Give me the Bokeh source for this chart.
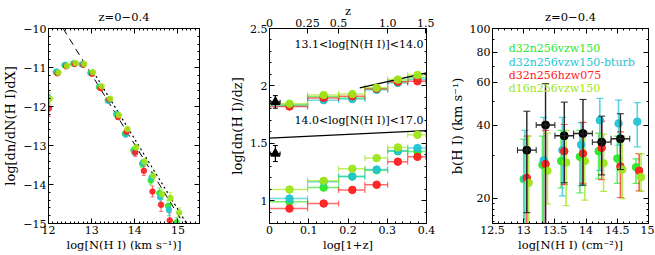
import math
from bokeh.plotting import figure
from bokeh.layouts import row
from bokeh.models import (ColumnDataSource, Whisker, TeeHead, FixedTicker, SingleIntervalTicker,
                          LinearAxis, LogAxis, Range1d, Label, CustomJSTickFormatter,
                          CustomLabelingPolicy)
from bokeh.transform import dodge
from bokeh.embed import file_html
from bokeh.resources import INLINE

NaN = float("nan")
FONT = "DejaVu Serif"

# ---------------- data ----------------
series_names = ["d32n256vzw150", "d32n256vzw150-bturb", "d32n256hzw075", "d16n256vzw150"]
series_colors = ["#2ee62e", "#22c5d5", "#ff2020", "#9ee61a"]

# Panel 1: column density distribution, z = 0-0.4
cddf_logN = [12.0, 12.2, 12.4, 12.6, 12.8, 13.0, 13.2, 13.4, 13.6, 13.8, 14.0, 14.2, 14.4, 14.6, 14.8, 15.0]
cddf_green = [-11.85, -11.12, -10.94, -10.90, -10.92, -11.14, -11.50, -11.84, -12.20, -12.70, -13.12, -13.47, -13.90, -14.22, -14.55, -14.97]
cddf_cyan = [-11.75, -11.10, -10.93, -10.90, -10.92, -11.15, -11.50, -11.86, -12.20, -12.72, -13.17, -13.45, -13.82, -14.33, -14.65, NaN]
cddf_red = [-12.05, -11.15, -10.97, -10.91, -10.93, -11.16, -11.53, -11.82, -12.27, -12.65, -13.18, -13.65, -14.18, -14.52, -14.92, NaN]
cddf_yg = [-11.80, -11.13, -10.96, -10.89, -10.91, -11.12, -11.48, -11.80, -12.22, -12.58, -13.05, -13.42, -13.78, -14.25, -14.35, -14.72]
cddf_err = [0.15, 0.03, 0.02, 0.02, 0.02, 0.03, 0.03, 0.04, 0.05, 0.06, 0.08, 0.09, 0.11, 0.13, 0.15, 0.12]
cddf_err_red = [0.20, 0.04, 0.03, 0.03, 0.03, 0.03, 0.04, 0.05, 0.06, 0.08, 0.10, 0.12, 0.14, 0.17, 0.20, 0.20]
fit_dashed_logN = [12.34, 15.10]
fit_dashed_f = [-10.00, -14.95]
fit_dotted_logN = [13.10, 15.20]
fit_dotted_f = [-11.22, -15.00]

# Panel 2: dn/dz evolution
zbin_lo = [0.0, 0.097, 0.176, 0.243, 0.301, 0.352]
zbin_hi = [0.097, 0.176, 0.243, 0.301, 0.352, 0.398]
zbin_mid = [0.051, 0.138, 0.211, 0.273, 0.327, 0.377]
dndz_a_green = [1.835, 1.905, 1.895, 1.975, 2.040, 2.070]
dndz_a_cyan = [1.825, 1.875, 1.885, 1.965, 2.025, 2.055]
dndz_a_red = [1.820, 1.895, 1.910, 1.975, 2.035, 2.040]
dndz_a_yg = [1.845, 1.920, 1.928, 1.983, 2.055, 2.095]
dndz_b_green = [0.990, 1.113, 1.210, 1.265, 1.430, 1.427]
dndz_b_cyan = [1.017, 1.165, 1.210, 1.270, 1.435, 1.458]
dndz_b_red = [0.930, 0.974, 1.093, 1.138, 1.339, 1.381]
dndz_b_yg = [1.096, 1.172, 1.277, 1.370, 1.463, 1.573]
obs_logz = [0.015, 0.015]
obs_dndz = [1.860, 1.410]
obs_err = [0.055, 0.070]
obs_xerr = [0.012, 0.012]
model_a_logz = [0.23, 0.40]
model_a_dndz = [1.983, 2.113]
model_b_logz = [0.00, 0.40]
model_b_dndz = [1.545, 1.610]
ztop_ticks = [0, 0.25, 0.5, 1.0, 1.5]
ztop_labels = ["0", "0.25", "0.5", "1.0", "1.5"]

# Panel 3: b-parameter vs N(HI)
b_logN = [13.0, 13.3, 13.6, 13.9, 14.2, 14.5, 14.8]
b_green = [23.9, 27.4, 28.4, 29.6, 31.2, 29.1, 26.8]
b_green_up = [35.0, 36.0, 38.0, 38.0, 37.0, 36.0, 29.0]
b_green_lo = [15.0, 15.0, 22.0, 21.0, 24.0, 23.0, 23.0]
b_cyan = [24.0, 28.6, 31.5, 33.2, 41.8, 40.6, 41.3]
b_cyan_up = [38.0, 43.0, 43.0, 40.8, 51.5, 50.7, 49.5]
b_cyan_lo = [15.0, 15.0, 20.4, 22.5, 26.0, 33.0, 32.5]
b_red = [24.2, 27.6, 31.2, 30.5, 32.2, 27.0, 25.9]
b_red_up = [36.0, 38.0, 40.2, 41.0, 41.5, 37.5, 30.5]
b_red_lo = [15.0, 15.0, 22.7, 23.0, 23.8, 20.1, 21.4]
b_yg = [23.1, 25.9, 28.0, 28.4, 27.8, 26.2, 24.4]
b_yg_up = [36.0, 37.0, 38.0, 37.5, 36.7, 36.0, 30.5]
b_yg_lo = [15.0, 18.9, 18.6, 19.6, 21.3, 19.9, 21.3]
obs_b_logN = [13.0, 13.3, 13.6, 13.9, 14.2, 14.5]
obs_b = [31.5, 40.0, 36.1, 36.9, 34.0, 35.1]
obs_b_up = [45.6, 59.2, 49.7, 51.0, 43.5, 44.5]
obs_b_lo = [17.4, 15.0, 23.1, 22.6, 24.9, 26.2]
obs_b_halfbin = [0.15, 0.15, 0.15, 0.15, 0.15, 0.15]

# ---------------- helpers ----------------
FMT_CODE = "var v = Math.round(tick*100)/100; return (v < 0 ? '\u2212' : '') + Math.abs(v).toString();"
H = 254


def fmt():
    return CustomJSTickFormatter(code=FMT_CODE)


def style_axis(ax, label_size="11.5px"):
    ax.major_tick_in = 5
    ax.major_tick_out = 0
    ax.minor_tick_in = 2
    ax.minor_tick_out = 0
    ax.axis_line_color = "black"
    ax.major_tick_line_color = "black"
    ax.minor_tick_line_color = "black"
    ax.major_label_text_font = FONT
    ax.major_label_text_font_size = "11px"
    ax.major_label_text_color = "black"
    ax.major_label_standoff = 2
    ax.axis_label_text_font = FONT
    ax.axis_label_text_font_style = "normal"
    ax.axis_label_text_font_size = label_size
    ax.axis_label_text_color = "black"
    ax.axis_label_standoff = 1


def mirror(p, side, ticker, log=False, label=None):
    ax = LogAxis(ticker=ticker) if log else LinearAxis(ticker=ticker)
    style_axis(ax)
    ax.major_label_text_font_size = "1px"
    ax.major_label_standoff = 0
    ax.major_label_policy = CustomLabelingPolicy(
        code="const all = [...indices]; for (const i of all) indices.unset(i); return indices;")
    ax.axis_label = label
    ax.axis_label_standoff = 1
    p.add_layout(ax, side)
    return ax


def make_fig(width, left, right, xr, yr, xlabel, ylabel, ylog=False):
    p = figure(width=width, height=H, x_range=xr, y_range=yr,
               y_axis_type="log" if ylog else "linear",
               output_backend="svg", toolbar_location=None,
               min_border_left=left, min_border_right=right,
               min_border_top=26, min_border_bottom=31,
               x_axis_label=xlabel, y_axis_label=ylabel)
    p.grid.visible = False
    p.outline_line_color = "black"
    p.outline_line_alpha = 1
    p.background_fill_color = "white"
    p.border_fill_color = "white"
    style_axis(p.xaxis[0])
    style_axis(p.yaxis[0], "13px")
    p.yaxis[0].axis_label_standoff = 2
    return p


TITLE = "z=0\u22120.4"

# ---------------- panel 1 ----------------
p1 = make_fig(222, 47, 23, Range1d(12, 15.5), Range1d(-15, -10),
              "log[N(H I) (km s\u207b\u00b9)]", "log[dn/dN(H I)dX]")
xt1 = SingleIntervalTicker(interval=1, num_minor_ticks=10)
yt1 = SingleIntervalTicker(interval=1, num_minor_ticks=5)
p1.xaxis[0].ticker = xt1
p1.yaxis[0].ticker = yt1
p1.xaxis[0].formatter = fmt()
p1.yaxis[0].formatter = fmt()
mirror(p1, "above", xt1, label=TITLE)
mirror(p1, "right", yt1)

p1.line(fit_dashed_logN, fit_dashed_f, line_color="black", line_dash="7 5", line_width=1)
p1.line(fit_dotted_logN, fit_dotted_f, line_color="black", line_dash="2 3", line_width=1.2)

cddf_sets = [cddf_green, cddf_cyan, cddf_red, cddf_yg]
cddf_errs = [cddf_err, cddf_err, cddf_err_red, cddf_err]
for vals, errs, col, off in zip(cddf_sets, cddf_errs, series_colors, [-0.03, -0.01, 0.01, 0.03]):
    src = ColumnDataSource(dict(x=cddf_logN, y=vals,
                                upper=[v + e for v, e in zip(vals, errs)],
                                lower=[v - e for v, e in zip(vals, errs)]))
    p1.add_layout(Whisker(source=src, base=dodge("x", off, range=p1.x_range), upper="upper", lower="lower",
                          dimension="height", line_color=col, line_alpha=0.6, line_width=1.2,
                          upper_head=TeeHead(size=4, line_color=col, line_alpha=0.6),
                          lower_head=TeeHead(size=4, line_color=col, line_alpha=0.6)))
    p1.scatter(x=dodge("x", off, range=p1.x_range), y="y", source=src, size=5.5, marker="circle",
               fill_color=col, line_color=col, fill_alpha=0.9, line_alpha=0.9)

# ---------------- panel 2 ----------------
p2 = make_fig(218, 47, 14, Range1d(0, 0.4), Range1d(0.8, 2.5), "log[1+z]", "log[dn(H I)/dz]")
xt2 = SingleIntervalTicker(interval=0.1, num_minor_ticks=5)
yt2 = SingleIntervalTicker(interval=0.5, num_minor_ticks=5)
p2.xaxis[0].ticker = xt2
p2.yaxis[0].ticker = yt2
p2.xaxis[0].formatter = fmt()
p2.yaxis[0].formatter = fmt()
mirror(p2, "right", yt2)

ztop_pos = [math.log10(1 + z) for z in ztop_ticks]
top_ax = LinearAxis(ticker=FixedTicker(ticks=ztop_pos, minor_ticks=[]),
                    formatter=CustomJSTickFormatter(args=dict(pos=ztop_pos, labs=ztop_labels), code="""
for (var i = 0; i < pos.length; i++) { if (Math.abs(pos[i] - tick) < 1e-6) return labs[i]; }
return '';"""))
style_axis(top_ax)
top_ax.axis_label = "z"
top_ax.axis_label_standoff = -2
p2.add_layout(top_ax, "above")

p2.line(model_a_logz, model_a_dndz, line_color="black", line_width=1.2)
p2.line(model_b_logz, model_b_dndz, line_color="black", line_width=1.2)

groups = [[dndz_a_green, dndz_a_cyan, dndz_a_red, dndz_a_yg],
          [dndz_b_green, dndz_b_cyan, dndz_b_red, dndz_b_yg]]
for grp in groups:
    for vals, col in zip(grp, series_colors):
        src = ColumnDataSource(dict(x=zbin_mid, y=vals, lo=zbin_lo, hi=zbin_hi))
        p2.add_layout(Whisker(source=src, base="y", upper="hi", lower="lo", dimension="width",
                              line_color=col, line_alpha=0.65, line_width=1.5,
                              upper_head=TeeHead(size=6, line_color=col, line_alpha=0.65, line_width=1.2),
                              lower_head=TeeHead(size=6, line_color=col, line_alpha=0.65, line_width=1.2)))
        p2.scatter(x="x", y="y", source=src, size=7.5, marker="circle",
                   fill_color=col, line_color=col, fill_alpha=0.95)

osrc = ColumnDataSource(dict(x=obs_logz, y=obs_dndz,
                             up=[v + e for v, e in zip(obs_dndz, obs_err)],
                             lo=[v - e for v, e in zip(obs_dndz, obs_err)],
                             xl=[v - e for v, e in zip(obs_logz, obs_xerr)],
                             xh=[v + e for v, e in zip(obs_logz, obs_xerr)]))
p2.add_layout(Whisker(source=osrc, base="x", upper="up", lower="lo", dimension="height",
                      line_color="black", line_width=1.2, level="annotation",
                      upper_head=TeeHead(size=5, line_color="black"),
                      lower_head=TeeHead(size=5, line_color="black")))
p2.add_layout(Whisker(source=osrc, base="y", upper="xh", lower="xl", dimension="width",
                      line_color="black", line_width=1.2, level="annotation",
                      upper_head=TeeHead(size=4, line_color="black"),
                      lower_head=TeeHead(size=4, line_color="black")))
p2.scatter(x="x", y="y", source=osrc, size=9, marker="triangle", fill_color="black", line_color="black")

for txt, yv in [("13.1<log[N(H I)]<14.0", 2.36), ("14.0<log[N(H I)]<17.0", 1.70)]:
    p2.add_layout(Label(x=0.064, y=yv, text=txt, text_font=FONT, text_font_size="11px",
                        text_baseline="middle", text_align="left", text_color="black"))

# ---------------- panel 3 ----------------
p3 = make_fig(214, 52, 6, Range1d(12.5, 15), Range1d(15.7, 100),
              "log[N(H I) (cm\u207b\u00b2)]", "b(H I) (km s\u207b\u00b9)", ylog=True)
xt3 = SingleIntervalTicker(interval=0.5, num_minor_ticks=5)
yt3 = FixedTicker(ticks=[20, 40, 60, 80, 100], minor_ticks=[16, 17, 18, 19, 30, 50, 70, 90])
p3.xaxis[0].ticker = xt3
p3.yaxis[0].ticker = yt3
p3.xaxis[0].formatter = fmt()
p3.yaxis[0].formatter = fmt()
mirror(p3, "above", xt3, label=TITLE)
mirror(p3, "right", yt3, log=True)

b_sets = [(b_green, b_green_up, b_green_lo), (b_cyan, b_cyan_up, b_cyan_lo),
          (b_red, b_red_up, b_red_lo), (b_yg, b_yg_up, b_yg_lo)]
for (vals, up, lo), col, off in zip(b_sets, series_colors, [0.0, 0.02, 0.05, 0.08]):
    src = ColumnDataSource(dict(x=b_logN, y=vals, up=up, lo=lo))
    p3.add_layout(Whisker(source=src, base=dodge("x", off, range=p3.x_range), upper="up", lower="lo",
                          dimension="height", line_color=col, line_alpha=0.75, line_width=1.6,
                          upper_head=TeeHead(size=7, line_color=col, line_alpha=0.75, line_width=1.2),
                          lower_head=TeeHead(size=7, line_color=col, line_alpha=0.75, line_width=1.2)))
    p3.scatter(x=dodge("x", off, range=p3.x_range), y="y", source=src, size=7.5, marker="circle",
               fill_color=col, line_color=col, fill_alpha=0.95)

bsrc = ColumnDataSource(dict(x=obs_b_logN, y=obs_b, up=obs_b_up, lo=obs_b_lo,
                             xl=[v + 0.05 - h for v, h in zip(obs_b_logN, obs_b_halfbin)],
                             xh=[v + 0.05 + h for v, h in zip(obs_b_logN, obs_b_halfbin)]))
p3.add_layout(Whisker(source=bsrc, base=dodge("x", 0.05, range=p3.x_range), upper="up", lower="lo",
                      dimension="height", line_color="#222222", line_width=1.4, level="annotation",
                      upper_head=TeeHead(size=7, line_color="#222222"),
                      lower_head=TeeHead(size=7, line_color="#222222")))
p3.add_layout(Whisker(source=bsrc, base="y", upper="xh", lower="xl", dimension="width",
                      line_color="#222222", line_width=1.4, level="annotation",
                      upper_head=TeeHead(size=6, line_color="#222222"),
                      lower_head=TeeHead(size=6, line_color="#222222")))
p3.scatter(x=dodge("x", 0.05, range=p3.x_range), y="y", source=bsrc, size=8, marker="circle",
           fill_color="black", line_color="black", level="annotation")

for name, col, yv in zip(series_names, series_colors, [83, 72.5, 64, 56.5]):
    p3.add_layout(Label(x=12.76, y=yv, text=name, text_font=FONT, text_font_size="11px",
                        text_baseline="middle", text_align="left", text_color=col))

layout = row(p1, p2, p3)
open("out.html", "w", encoding="utf-8").write(file_html(layout, INLINE))
